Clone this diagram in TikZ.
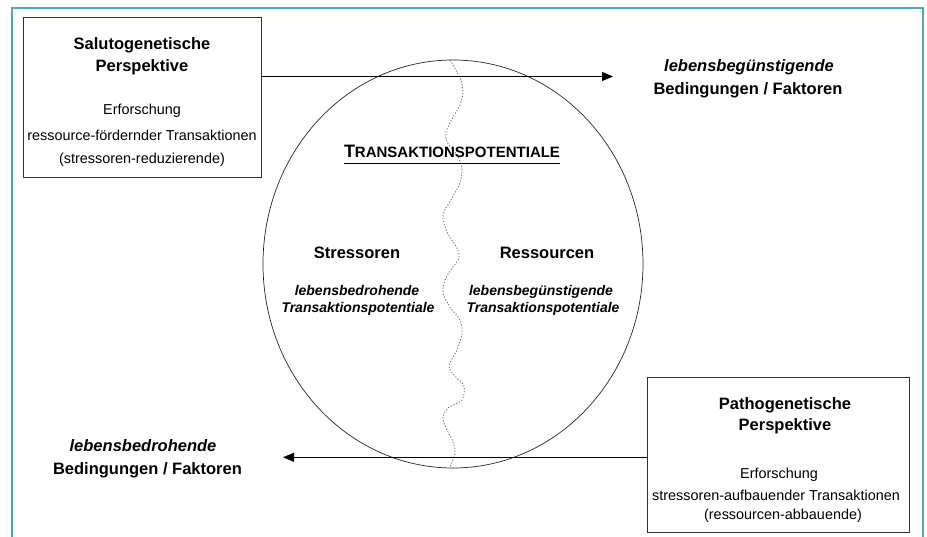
\documentclass[tikz,border=0pt]{standalone}
\usepackage{fontspec}
\setmainfont{Liberation Sans}
\usetikzlibrary{arrows.meta,shapes.geometric}
\definecolor{framecol}{RGB}{80,163,198}
\begin{document}
\begin{tikzpicture}[x=1pt,y=-1pt,
  txt/.style={inner sep=0pt, anchor=base},
  bt/.style={txt, font=\fontsize{16.5}{18}\selectfont\bfseries},
  bit/.style={txt, font=\fontsize{16.5}{18}\selectfont\bfseries\itshape},
  nt/.style={txt, font=\fontsize{14.4}{16}\selectfont},
  it/.style={txt, font=\fontsize{14}{16}\selectfont\bfseries\itshape},
  pbox/.style={draw=black!80, line width=0.8pt, inner sep=0pt, outer sep=0pt},
  conn/.style={line width=0.8pt, -{Triangle[length=11pt,width=9pt]}},
  frame/.style={draw=framecol, line width=2.6pt},
  wave/.style={draw=black!60, line width=0.75pt, dash pattern=on 1.3pt off 1.7pt},
]
\useasboundingbox (0,0) rectangle (927,537);
\fill[white] (0,0) rectangle (927,537);
\draw[frame] (12,540) -- (12,8) -- (923,8) -- (923,540);

% circle
\node[draw=black!85, line width=0.7pt, ellipse, inner sep=0pt, outer sep=0pt,
      minimum width=380pt, minimum height=408pt] (circ) at (453,264) {};
\draw[wave] plot[smooth] coordinates {(450,60) (460,78) (463,92) (460,105) (453,117) (446,132) (447,142) (457,155) (462,168) (460,183) (452,198) (443,215) (447,232) (457,248) (459,258) (453,267) (445,280) (443,293) (450,307) (460,320) (462,333) (457,350) (449,366) (455,376) (464,386) (462,400) (448,408) (443,418) (447,430) (453,442) (455,453) (450,467)};

% boxes
\node[pbox, minimum width=238pt, minimum height=160pt] (salbox) at (142,97) {};
\node[pbox, minimum width=262pt, minimum height=155pt] (pathbox) at (778,454.5) {};

\node[bt] (sal1) at (142,49.3) {Salutogenetische};
\node[bt] (sal2) at (142,71.7) {Perspektive};
\node[nt] (sal3) at (142,115) {Erforschung};
\node[nt] (sal4) at (142,140.7) {ressource-fördernder Transaktionen};
\node[nt] (sal5) at (142,164) {(stressoren-reduzierende)};

\node[bt] (path1) at (785,409.3) {Pathogenetische};
\node[bt] (path2) at (785,430.7) {Perspektive};
\node[nt] (path3) at (779,478.3) {Erforschung};
\node[nt] (path4) at (776,500) {stressoren-aufbauender Transaktionen};
\node[nt] (path5) at (783,519.3) {(ressourcen-abbauende)};

% arrows
\coordinate (topend) at (613,76.5);
\draw[conn] (salbox.east |- topend) -- (topend);
\coordinate (botend) at (283,457.3);
\draw[conn] (pathbox.west |- botend) -- (botend);

% outer labels
\node[bit] (pos1) at (749,71.7) {lebensbegünstigende};
\node[bt] (pos2) at (748,95) {Bedingungen / Faktoren};
\node[bit] (neg1) at (143,451.7) {lebensbedrohende};
\node[bt] (neg2) at (147.5,475) {Bedingungen / Faktoren};

% inner labels
\node[txt, font=\bfseries] (tp) at (452,157.3) {{\fontsize{18}{20}\selectfont T}{\fontsize{15}{18}\selectfont RANSAKTIONSPOTENTIALE}};
\draw[line width=1.1pt] ([yshift=-6pt]tp.base west) -- ([yshift=-6pt]tp.base east);

\node[bt] (str) at (357,259) {Stressoren};
\node[it] (str1) at (357,296) {lebensbedrohende};
\node[it] (str2) at (358,313) {Transaktionspotentiale};
\node[bt] (res) at (547,259) {Ressourcen};
\node[it] (res1) at (541,296) {lebensbegünstigende};
\node[it] (res2) at (543,313) {Transaktionspotentiale};
\end{tikzpicture}
\end{document}
